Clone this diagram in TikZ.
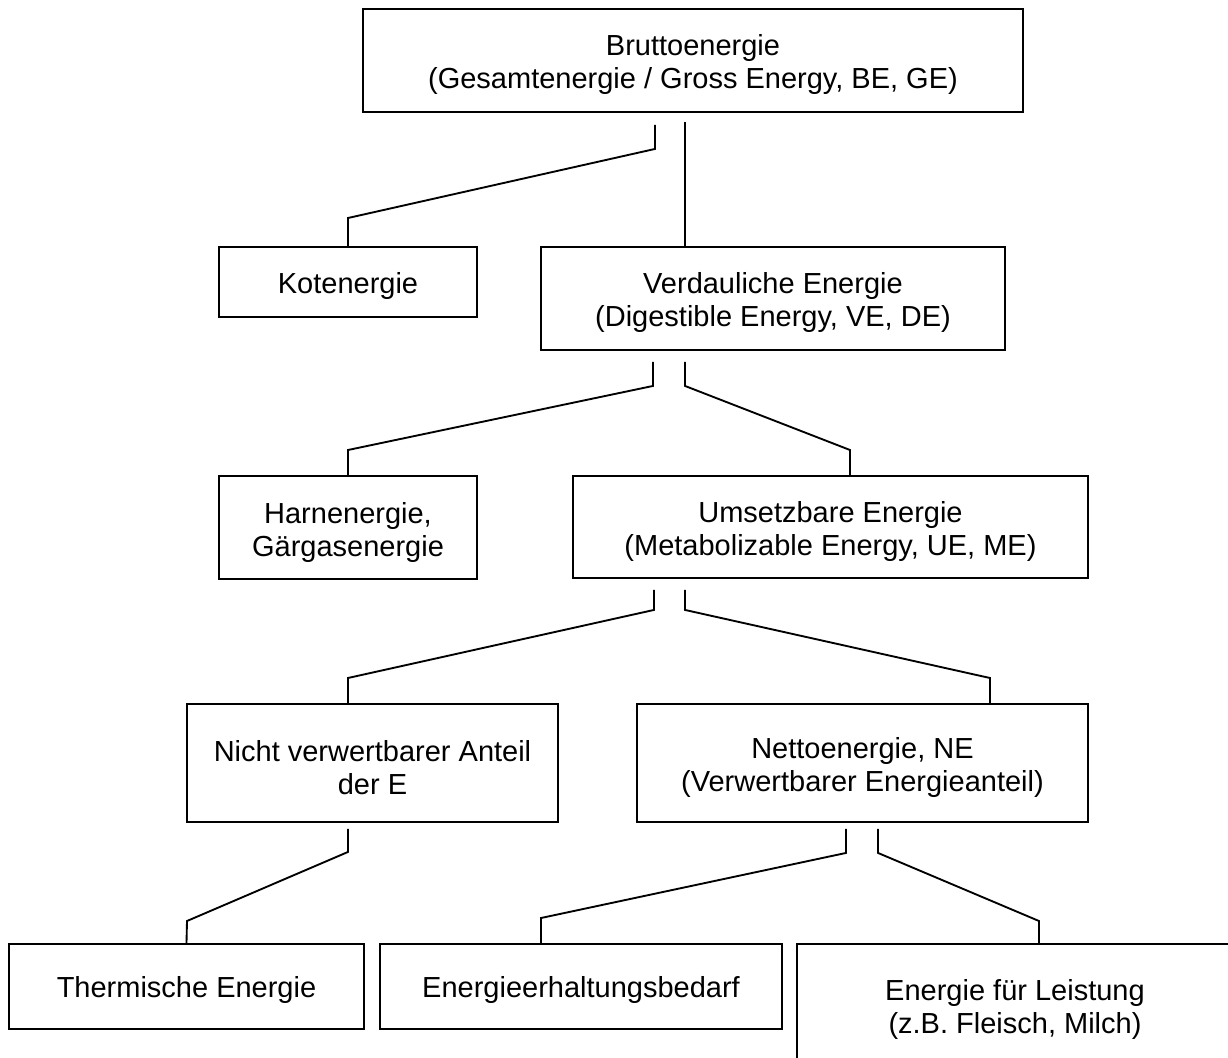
\documentclass[tikz,border=0pt]{standalone}
\usepackage{fontspec}
\setmainfont{Liberation Sans}
\newcommand\liftone{\rule{0pt}{21.5pt}}
\newcommand\lifttwo{\rule{0pt}{22.5pt}}
\begin{document}
\begin{tikzpicture}[x=0.75pt,y=-0.75pt,
  box/.style={draw, line width=1.4pt, inner sep=0pt, align=center,
    font=\fontsize{21.75}{24.75}\selectfont},
  conn/.style={line width=1.4pt, line join=miter}]
\useasboundingbox (0,0) rectangle (1228,1057);
\fill[white] (0,0) rectangle (1228,1057);
\clip (0,0) rectangle (1228,1057);
% boxes
\node[box, minimum width=495pt, minimum height=77.25pt] (top) at (693,60.5)
  {\lifttwo Bruttoenergie\\(Gesamtenergie / Gross Energy, BE, GE)};
\node[box, minimum width=193.5pt, minimum height=52.5pt] (kot) at (348,282)
  {\liftone Kotenergie};
\node[box, minimum width=348pt, minimum height=77.25pt] (verd) at (773,298.5)
  {\lifttwo Verdauliche Energie\\(Digestible Energy, VE, DE)};
\node[box, minimum width=193.5pt, minimum height=77.25pt] (harn) at (348,527.5)
  {\lifttwo Harnenergie,\\Gärgasenergie};
\node[box, minimum width=386.25pt, minimum height=76.5pt] (ums) at (830.5,527)
  {\lifttwo Umsetzbare Energie\\(Metabolizable Energy, UE, ME)};
\node[box, minimum width=278.25pt, minimum height=88.5pt] (nicht) at (372.5,763)
  {\lifttwo Nicht verwertbarer Anteil\\der E};
\node[box, minimum width=338.25pt, minimum height=88.5pt] (netto) at (862.5,763)
  {\lifttwo Nettoenergie, NE\\(Verwertbarer Energieanteil)};
\node[box, minimum width=266.25pt, minimum height=63.75pt] (therm) at (186.5,986.5)
  {\liftone Thermische Energie};
\node[box, minimum width=301.5pt, minimum height=63.75pt] (erhalt) at (581,986.5)
  {\liftone Energieerhaltungsbedarf};
\node[box, minimum width=327pt, minimum height=91.5pt] (leist) at (1015,1005)
  {\lifttwo Energie für Leistung\\(z.B. Fleisch, Milch)};
% connectors
\draw[conn] ([shift={(-38,12)}]top.south) -- ++(0,24) -- (348,218) -- (kot.north);
\draw[conn] ([shift={(-8,9)}]top.south) -- (685,0 |- verd.north);
\draw[conn] ([shift={(-120,11)}]verd.south) -- ++(0,24) -- (348,450) -- (harn.north);
\draw[conn] ([shift={(-88,11)}]verd.south) -- ++(0,24) -- (850,450) -- (850,450 |- ums.north);
\draw[conn] ([shift={(-176.5,11)}]ums.south) -- ++(0,20) -- (348,678) -- (348,678 |- nicht.north);
\draw[conn] ([shift={(-145.5,11)}]ums.south) -- ++(0,20) -- (990,678) -- (990,678 |- netto.north);
\draw[conn] ([shift={(-24.5,6)}]nicht.south) -- ++(0,23) -- (187,921) -- (therm.north);
\draw[conn] ([shift={(-16.5,6)}]netto.south) -- ++(0,24) -- (541,918) -- (541,918 |- erhalt.north);
\draw[conn] ([shift={(15.5,6)}]netto.south) -- ++(0,24) -- (1039,921) -- (1039,921 |- leist.north);
\end{tikzpicture}
\end{document}
